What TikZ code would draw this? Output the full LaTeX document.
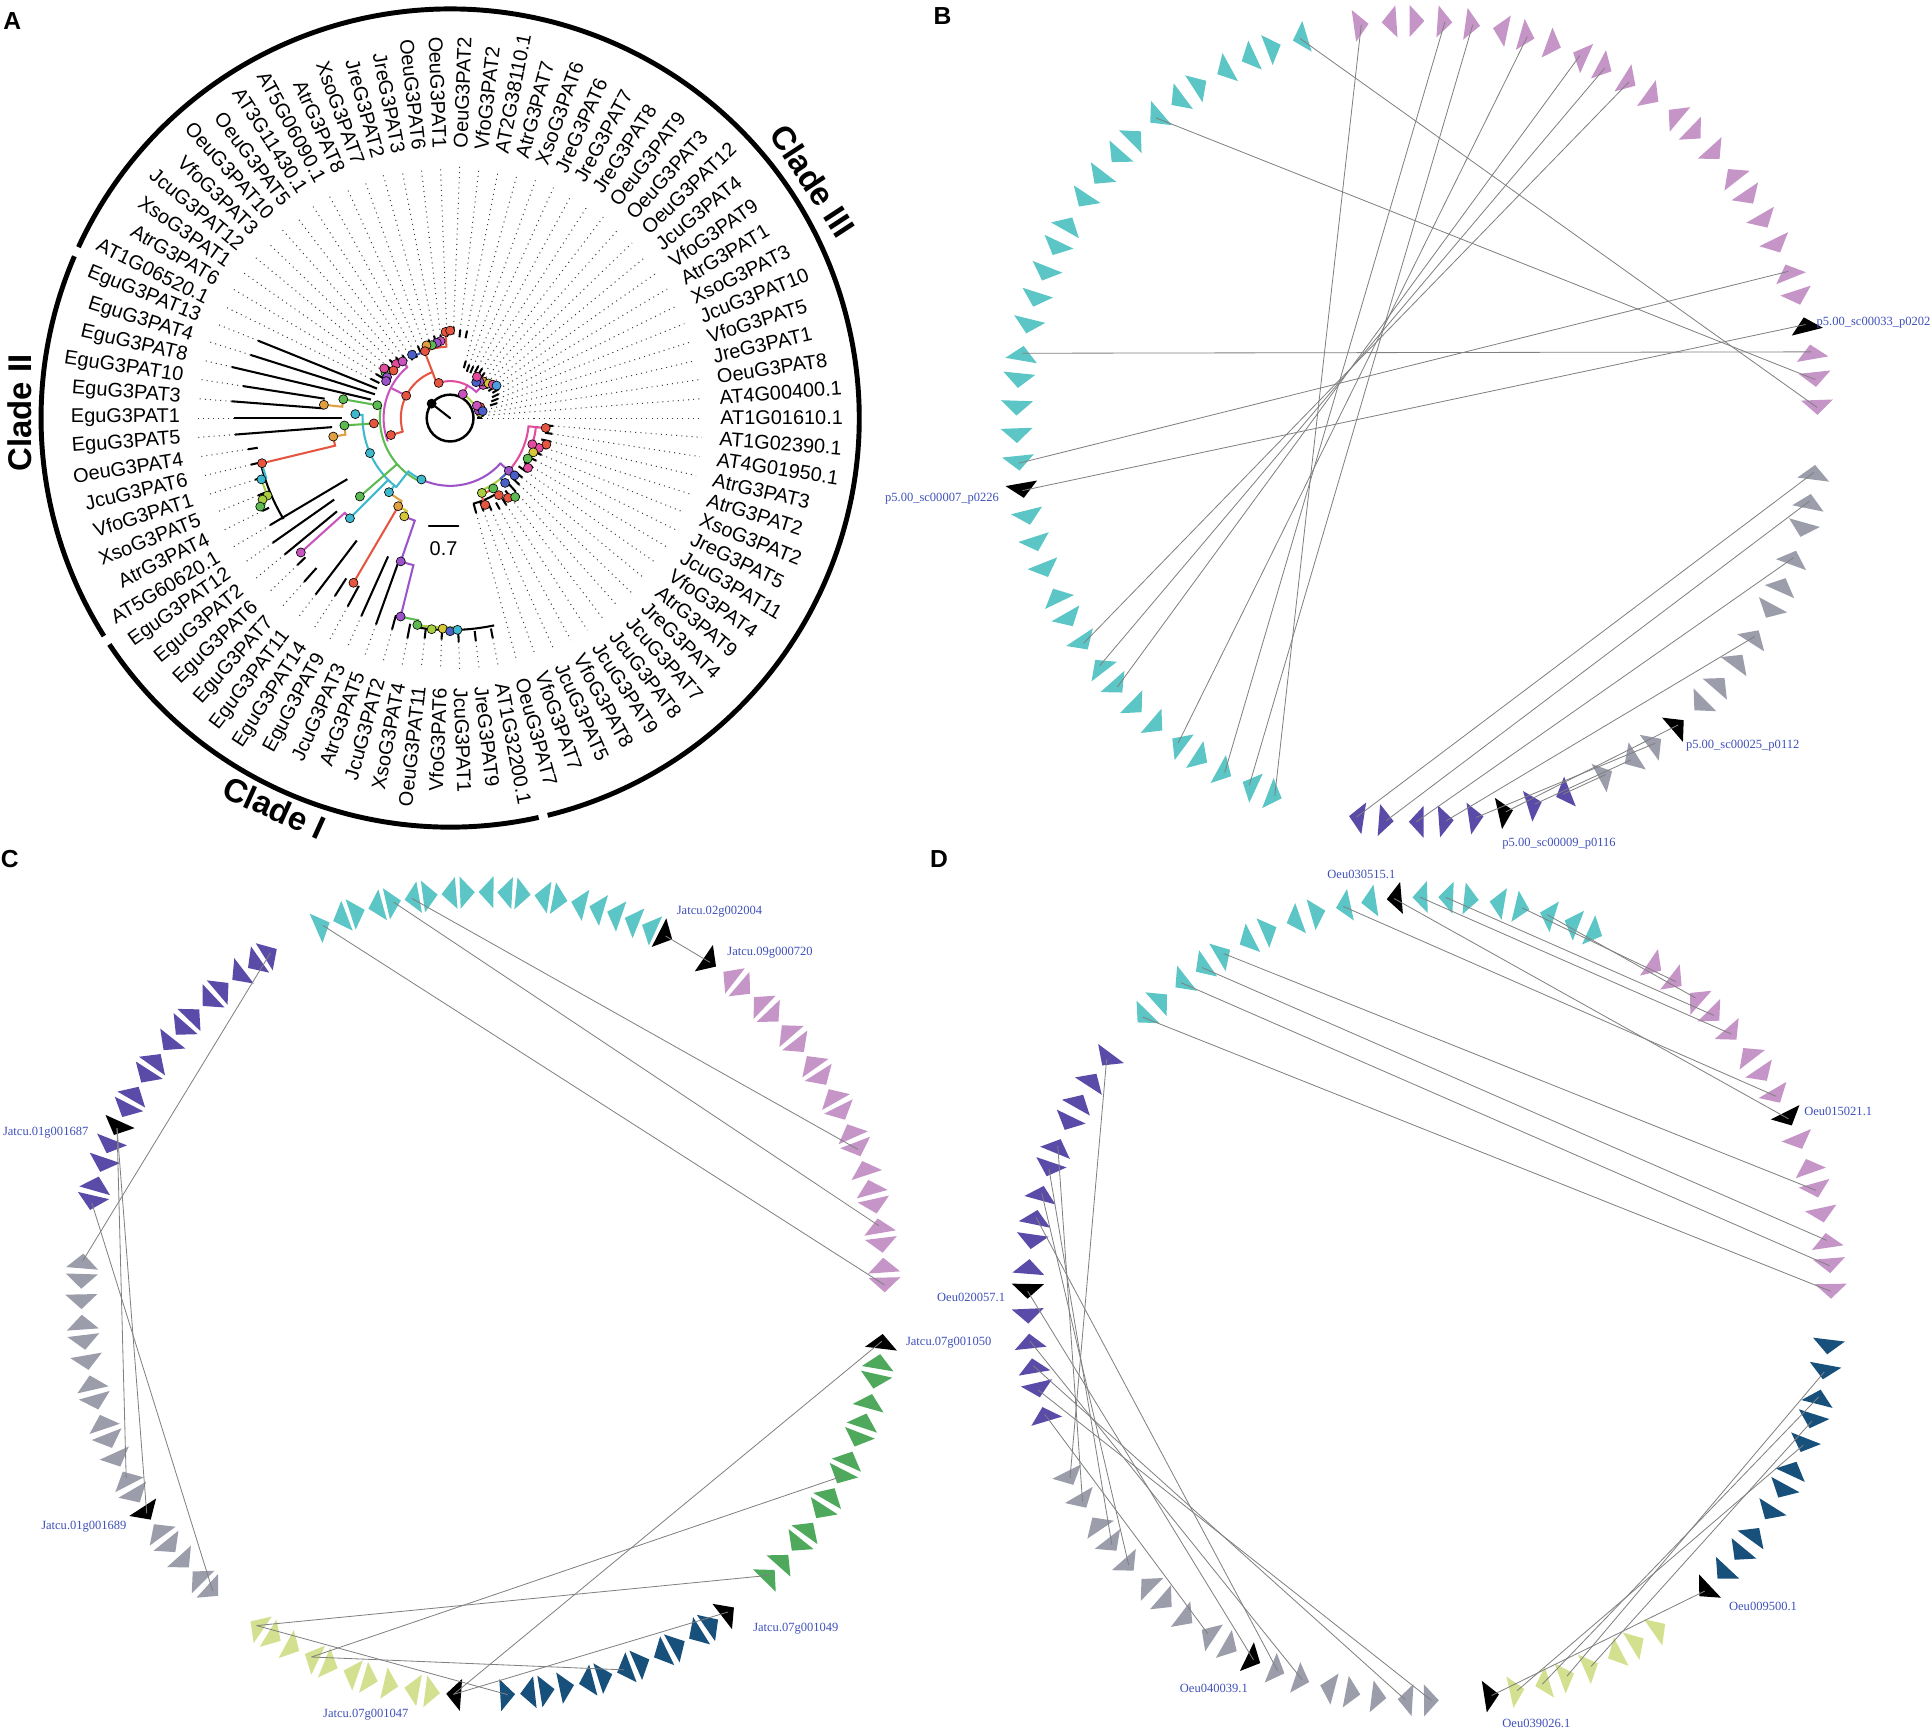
\documentclass[tikz,border=0pt]{standalone}
\usepackage{fontspec}
\setmainfont{Liberation Sans}
\newfontfamily\genefont{Liberation Serif}
\usetikzlibrary{calc}

\definecolor{ringcyan}{HTML}{5CC6C6}
\definecolor{ringplum}{HTML}{C695C8}
\definecolor{ringgray}{HTML}{9B9DAB}
\definecolor{ringindigo}{HTML}{5B4BA9}
\definecolor{ringnavy}{HTML}{18507C}
\definecolor{ringgreen}{HTML}{4EA95C}
\definecolor{ringlime}{HTML}{D3E08F}
\definecolor{linkgray}{HTML}{808080}
\definecolor{genblue}{HTML}{3E4FB8}
\definecolor{ttomato}{HTML}{E5553F}
\definecolor{tpink}{HTML}{E24C9C}
\definecolor{torchid}{HTML}{C853BE}
\definecolor{tpurple}{HTML}{9C52C8}
\definecolor{tgreen}{HTML}{5BBA50}
\definecolor{tcyan}{HTML}{3DB8CC}
\definecolor{torange}{HTML}{E0A040}
\definecolor{tyellow}{HTML}{D6C63A}
\definecolor{tyelgreen}{HTML}{A9CF3E}
\definecolor{tblue}{HTML}{4A5FC8}
\definecolor{tsky}{HTML}{4AA0E0}

\tikzset{
  treeline/.style={line width=1pt, line cap=round},
  tipline/.style={line width=1pt, draw=black},
  leafdots/.style={dotted, line width=0.5pt, draw=black!75},
  leaf/.style={font=\fontsize{9.7}{11}\selectfont, inner sep=0pt},
  cladebar/.style={line width=2.4pt},
  cladename/.style={font=\bfseries\fontsize{16}{19}\selectfont, inner sep=0pt},
  tdot/.style={circle, draw=black, line width=0.3pt, inner sep=0pt, minimum size=4.4pt},
  panel/.style={font=\bfseries\fontsize{12}{14}\selectfont, inner sep=0pt},
  link/.style={draw=linkgray, line width=0.4pt},
  glabel/.style={font=\genefont\fontsize{6.1}{7}\selectfont, text=genblue, inner sep=0pt},
}

% #1 name, #2 centre, #3 radius, #4 first angle, #5 step, #6 colour, #7 strands (2 = black)
\newcommand{\genering}[7]{%
  \foreach \gd [count=\k] in {#7}{%
    \pgfmathsetmacro\gang{#4+(\k-1)*(#5)}%
    \pgfmathtruncatemacro\gsg{\gd>0 ? 1 : -1}%
    \pgfmathtruncatemacro\ghl{abs(\gd)>1 ? 1 : 0}%
    \pgfmathsetmacro\gtip{6*\gsg}%
    \pgfmathsetmacro\gbase{-6*\gsg}%
    \ifnum\ghl=1 \def\gcol{black}\else\def\gcol{#6}\fi
    \begin{scope}[shift={(#2)},rotate=\gang]
      \fill[fill=\gcol] (#3,\gtip) -- (#3-13,\gbase) -- (#3+13,\gbase) -- cycle;
      \coordinate (#1\k) at (#3,0);
    \end{scope}}}

\newcommand{\treeedge}[5]{\draw[treeline,draw=#1] (#2:#3) arc[start angle=#2, end angle=#4, radius=#3] -- (#4:#5);}

\begin{document}
\begin{tikzpicture}[x=0.6pt,y=0.6pt]
\useasboundingbox (0,0) rectangle (1568,-1404);

% panel A
\node[panel] (pa) at (10,-17) {A};
\begin{scope}[shift={(365.3,-339.3)}]
  \draw[cladebar] (-76.2:332) arc[start angle=-76.2, end angle=155.3, radius=332];
  \draw[cladebar] (156.7:332) arc[start angle=156.7, end angle=212.2, radius=332];
  \draw[cladebar] (213.6:332) arc[start angle=213.6, end angle=282.5, radius=332];
  \node[cladename, rotate=-56.8] (c3) at (33.2:352) {Clade III};
  \node[cladename, rotate=90] (c2) at (179.3:349) {Clade II};
  \node[cladename, rotate=-24.3] (c1) at (245.7:347) {Clade I};

  \foreach \lab/\tip/\base [count=\i] in {
    OeuG3PAT7/80/72, VfoG3PAT7/80/72, JcuG3PAT5/82/75, VfoG3PAT8/84/78, JcuG3PAT9/84/78,
    JcuG3PAT8/82/74, JcuG3PAT7/80/72, JreG3PAT4/78/70, AtrG3PAT9/76/68, VfoG3PAT4/76/68,
    JcuG3PAT11/78/70, JreG3PAT5/78/70, XsoG3PAT2/80/72, AtrG3PAT2/82/74, AtrG3PAT3/84/76,
    AT4G01950.1/84/78, AT1G02390.1/84/78, AT1G01610.1/26/22, AT4G00400.1/27/23, OeuG3PAT8/28/23,
    JreG3PAT1/30/24, VfoG3PAT5/40/34, JcuG3PAT10/42/36, XsoG3PAT3/44/38, AtrG3PAT1/46/40,
    VfoG3PAT9/44/38, JcuG3PAT4/44/38, OeuG3PAT12/42/38, OeuG3PAT3/44/40, OeuG3PAT9/46/40,
    JreG3PAT8/48/42, JreG3PAT7/48/42, JreG3PAT6/46/40, XsoG3PAT6/46/40, AtrG3PAT7/48/42,
    AT2G38110.1/72/66, VfoG3PAT2/72/66, OeuG3PAT2/74/68, OeuG3PAT1/72/66, OeuG3PAT6/68/62,
    JreG3PAT3/68/62, JreG3PAT2/66/60, XsoG3PAT7/64/58, AtrG3PAT8/64/58, AT5G06090.1/62/56,
    AT3G11430.1/62/56, OeuG3PAT5/64/58, OeuG3PAT10/66/60, VfoG3PAT3/68/60, JcuG3PAT12/66/60,
    XsoG3PAT1/66/60, AtrG3PAT6/70/62, AT1G06520.1/72/64,
    EguG3PAT13/168/64, EguG3PAT4/170/64, EguG3PAT8/182/66, EguG3PAT10/170/103, EguG3PAT3/178/103,
    EguG3PAT1/175/88, EguG3PAT5/175/96, OeuG3PAT4/166/158, JcuG3PAT6/166/160, VfoG3PAT1/166/160,
    XsoG3PAT5/168/162, AtrG3PAT4/170/164, AT5G60620.1/170/97,
    EguG3PAT12/176/115, EguG3PAT2/174/119, EguG3PAT6/172/163, EguG3PAT7/178/163, EguG3PAT11/180/125,
    EguG3PAT14/172/155, EguG3PAT9/174/155, JcuG3PAT3/176/123, AtrG3PAT5/178/123, JcuG3PAT2/178/166,
    XsoG3PAT4/182/170, OeuG3PAT11/180/172, VfoG3PAT6/180/172, JcuG3PAT1/182/174, JreG3PAT9/182/174,
    AT1G32200.1/182/174}{
    \pgfmathsetmacro\th{(\i-18)*180/41}
    \pgfmathtruncatemacro\flip{and(\th>90,\th<270)}
    \draw[tipline] (\th:\base) -- (\th:\tip);
    \draw[leafdots] (\th:\tip) -- (\th:205);
    \ifnum\flip=1
      \node[leaf, anchor=east, rotate=\th+180] (leaf\i) at (\th:219) {\lab};
    \else
      \node[leaf, anchor=west, rotate=\th] (leaf\i) at (\th:219) {\lab};
    \fi
  }

  \draw[tipline] (193:158) arc[start angle=193, end angle=211, radius=160];
  \draw[tipline] (261:172) arc[start angle=261, end angle=282, radius=172];
  \draw[tipline] (-75:72) arc[start angle=-75, end angle=-60, radius=72];

  \draw[treeline, line width=1.2pt] (0,0) circle[radius=19];
  \node[circle, fill=black, inner sep=0pt, minimum size=4.8pt] (root) at (142:19) {};
  \draw[treeline] (root) -- (0,0);

  \foreach \c/\a/\r/\b/\s in {
    ttomato/196/40/111/40, tpink/111/30/62/30, tpink/62/30/62/22, tyelgreen/55/22/15/22,
    torchid/62/30/45/38, ttomato/111/30/111/58, ttomato/111/58/93/70, tblue/111/58/121/60,
    torchid/153/40/153/54, torchid/130/54/200/54, torchid/130/54/130/60,
    tpurple/245/55/318/55, tpurple/318/55/318/64, tpink/318/64/354/72,
    tgreen/172/57/243/57, tcyan/232/71/178/77, tcyan/245/55/232/71,
    tgreen/172/57/170/88, torange/170/88/174/103, tgreen/184/57/184/86, torange/184/86/189/96,
    ttomato/189/96/193.5/157, tcyan/193.5/157/198/161, tyelgreen/198/161/203.5/166,
    tgreen/203.5/166/205/170, tgreen/221/57/221/97, tcyan/225/71/225/115, torchid/225/115/222/163,
    tcyan/230.5/71/230.5/78, torange/230.5/78/239.5/83, tyellow/239.5/83/245/88,
    ttomato/239.5/83/239.6/155, tpurple/245/88/251/123, tpurple/251/123/256/166,
    tgreen/256/166/261/170, tyelgreen/261/170/272/172, ttomato/196/40/196/50,
    tyelgreen/-42/64/-67/66, ttomato/-58/67/-68/76, tblue/-42/64/-50/69, tpink/-18/70/-6/78}{
    \treeedge{\c}{\a}{\r}{\b}{\s}
  }

  \foreach \a/\r/\c [count=\k] in {
    93/70/ttomato, 90/71/ttomato, 97/63/torchid, 100/62/tpurple, 104/61/tgreen, 108/62/torange,
    110.6/58/ttomato, 121/60/tblue, 135/62/tpink, 140/60/ttomato, 145/64/tgreen, 147/61/tpurple,
    150/60/tpurple, 143/67/tpink, 153/40/ttomato, 108/30/ttomato, 62/22/torchid, 196/50/ttomato,
    130/60/torchid, 45/38/torchid, 48/40/torange, 51/38/tpurple, 54/36/tblue, 42/42/tyellow,
    38/44/tpink, 35/46/tsky, 57/40/tpink, 10/25/tyellow, 15/24/tpurple, 20/26/ttomato,
    25/24/torchid, 12/27/tblue, -5.9/78/ttomato, -15.4/81/ttomato, -18.6/76/tpink, -17.7/70/tpink,
    -22.4/73/tyellow, -27.6/71/tgreen, -32.6/75/tpink, -41.9/64/tpurple, -41.7/70/tblue,
    -49.7/69/tblue, -54/80/ttomato, -50.5/83/tgreen, -57.7/74/ttomato, -58.5/67/tgreen,
    -67/66/tyelgreen, -68/76/ttomato, 170/60/tgreen, 170/88/tgreen, 174/103/torange, 177.6/77/tcyan,
    184/86/tgreen, 184/62/ttomato, 189/96/torange, 193.5/157/ttomato, 198/161/tcyan,
    203/161/tyelgreen, 203.5/166/tyelgreen, 205/170/tgreen, 203.6/71/tcyan, 221/97/tgreen,
    225/115/tcyan, 222/163/torchid, 230.5/78/tcyan, 239.5/83/torange, 245/88/tyellow,
    239.6/155/ttomato, 251/123/tpurple, 256/166/tpurple, 261/170/tgreen, 265/172/tyelgreen,
    268/171/tyellow, 270/173/tblue, 272/172/tcyan, 245/55/tcyan}{
    \node[tdot, fill=\c] (nd\k) at (\a:\r) {};
  }
\end{scope}
\coordinate (sbl) at (348,-427);
\coordinate (sbr) at (372,-427);
\draw[treeline] (sbl) -- (sbr);
\node[leaf] (sbt) at (360,-445) {0.7};

% panel B
\node[panel] (pb) at (765,-13) {B};
\coordinate (Bc) at (1150,-342);
\genering{bcy}{Bc}{325}{107}{3.95}{ringcyan}{1,-1,1,1,-1,1,1,-1,1,1,1,-1,1,1,1,1,-1,1,1,1,1,2,1,1,1,-1,1,1,-1,1,1,1,-1,1,1,-1,1}
\genering{bpu}{Bc}{325}{98}{-4}{ringplum}{-1,1,-1,-1,-1,1,-1,-1,1,-1,-1,-1,1,-1,-1,1,-1,-1,-1,1,-1,2,1,-1,-1}
\genering{bgr}{Bc}{325}{-7.3}{-4.2}{ringgray}{1,1,-1,1,1,-1,1,1,1,-1,2,1,-1,1}
\genering{bin}{Bc}{325}{-68.6}{-4.3}{ringindigo}{-1,1,2,1,1,-1,1,-1}
\foreach \u/\v in {bcy1/bpu25, bcy7/bpu24, bcy17/bpu23, bcy21/bpu20, bcy22/bpu22, bpu1/bcy37,
  bpu4/bcy35, bpu5/bcy36, bpu7/bcy33, bpu9/bcy30, bpu10/bcy29, bpu11/bcy28, bgr1/bin8, bgr2/bin7,
  bgr4/bin6, bgr7/bin5, bgr11/bin3, bgr12/bin4, bgr13/bin2, bgr14/bin1}
  \draw[link] (\u) -- (\v);
\node[glabel, anchor=west] (lb1) at (1474,-262) {p5.00\_sc00033\_p0202};
\node[glabel, anchor=east] (lb2) at (811,-405) {p5.00\_sc00007\_p0226};
\node[glabel, anchor=west] (lb3) at (1368,-605) {p5.00\_sc00025\_p0112};
\node[glabel, anchor=west] (lb4) at (1219,-685) {p5.00\_sc00009\_p0116};

% panel C
\node[panel] (pc) at (8,-697) {C};
\coordinate (Cc) at (392,-1050);
\genering{ccy}{Cc}{326}{113.5}{-2.66}{ringcyan}{-1,1,-1,1,-1,1,-1,1,-1,1,1,-1,1,-1,1,1,1,1,1,-2}
\genering{cbk}{Cc}{326}{55.6}{0}{black}{-2}
\genering{cpu}{Cc}{326}{52.2}{-2.83}{ringplum}{1,-1,1,-1,1,-1,1,-1,1,-1,1,-1,1,1,-1,1,-1,1,-1}
\genering{crb}{Cc}{326}{-6.8}{0}{black}{2}
\genering{cgn}{Cc}{326}{-9.7}{-2.9}{ringgreen}{1,-1,1,1,-1,1,-1,1,-1,1,-1,1,1}
\genering{cnv}{Cc}{326}{-52.4}{-2.84}{ringnavy}{2,1,-1,1,-1,1,-1,1,-1,1,1,-1,1}
\genering{cyl}{Cc}{326}{265.8}{-3.01}{ringlime}{-2,1,-1,1,1,-1,1,-1,1,1,-1}
\genering{cgr}{Cc}{326}{227.7}{-2.91}{ringgray}{1,-1,1,1,-1,2,1,-1,1,1,-1,1,-1,1,1,-1,1,1,-1}
\genering{cin}{Cc}{326}{166.9}{-2.81}{ringindigo}{1,-1,1,1,2,1,-1,1,-1,1,1,-1,1,-1,1,1,-1}
\foreach \u/\v in {ccy1/cpu19, ccy5/cpu16, ccy6/cpu12, ccy20/cbk1, cin17/cgr19, cin5/cgr8,
  cin5/cgr6, cin1/cgr1, cgn13/cyl11, cgn7/cyl8, crb1/cyl1, cyl11/cnv13, cyl8/cnv7, cyl1/cnv1}
  \draw[link] (\u) -- (\v);
\node[glabel, anchor=west] (lc1) at (549,-740) {Jatcu.02g002004};
\node[glabel, anchor=west] (lc2) at (590,-773) {Jatcu.09g000720};
\node[glabel, anchor=east] (lc3) at (72,-919) {Jatcu.01g001687};
\node[glabel, anchor=west] (lc4) at (735,-1090) {Jatcu.07g001050};
\node[glabel, anchor=east] (lc5) at (103,-1239) {Jatcu.01g001689};
\node[glabel, anchor=west] (lc6) at (611,-1322) {Jatcu.07g001049};
\node[glabel, anchor=west] (lc7) at (262,-1392) {Jatcu.07g001047};

% panel D
\node[panel] (pd) at (762,-697) {D};
\coordinate (Dc) at (1160,-1054);
\genering{dcy}{Dc}{326}{135.5}{-3.68}{ringcyan}{1,-1,1,1,-1,1,-1,1,-1,1,1,2,1,1,-1,1,-1,1,1,-1}
\genering{dpu}{Dc}{326}{55.8}{-3.65}{ringplum}{-1,-1,1,-1,-1,1,-1,-1,-2,-1,1,-1,-1,1,-1,-1}
\genering{dnv}{Dc}{326}{-6.9}{-3.62}{ringnavy}{-1,-1,1,-1,-1,1,-1,-1,1,-1,-1,-2}
\genering{dyl}{Dc}{326}{-55.1}{-3.71}{ringlime}{1,1,-1,1,1,-1,1,2}
\genering{dgr}{Dc}{326}{270.3}{-3.75}{ringgray}{1,-1,1,1,-1,1,1,2,1,-1,1,1,-1,1,1,-1,1,1}
\genering{din}{Dc}{326}{196.7}{-3.55}{ringindigo}{-1,1,-1,-1,1,2,-1,1,-1,-1,1,-1,1,-1,-1,1}
\foreach \u/\v in {dcy1/dpu16, dcy3/dpu15, dcy4/dpu14, dcy5/dpu12, dcy10/dpu8, dcy12/dpu9,
  dcy13/dpu5, dcy14/dpu4, dcy17/dpu2, dcy18/dpu3, din16/dgr18, din12/dgr17, din11/dgr15,
  din10/dgr14, din9/dgr7, din6/dgr8, din4/dgr6, din3/dgr2, din2/dgr1, din1/dgr10,
  dnv2/dyl5, dnv3/dyl6, dnv4/dyl4, dnv5/dyl7, dnv12/dyl8}
  \draw[link] (\u) -- (\v);
\node[glabel, anchor=west] (ld1) at (1077,-710) {Oeu030515.1};
\node[glabel, anchor=west] (ld2) at (1464,-902) {Oeu015021.1};
\node[glabel, anchor=east] (ld3) at (816,-1053) {Oeu020057.1};
\node[glabel, anchor=west] (ld4) at (1403,-1304) {Oeu009500.1};
\node[glabel, anchor=east] (ld5) at (1013,-1370) {Oeu040039.1};
\node[glabel, anchor=west] (ld6) at (1219,-1399) {Oeu039026.1};
\end{tikzpicture}
\end{document}
